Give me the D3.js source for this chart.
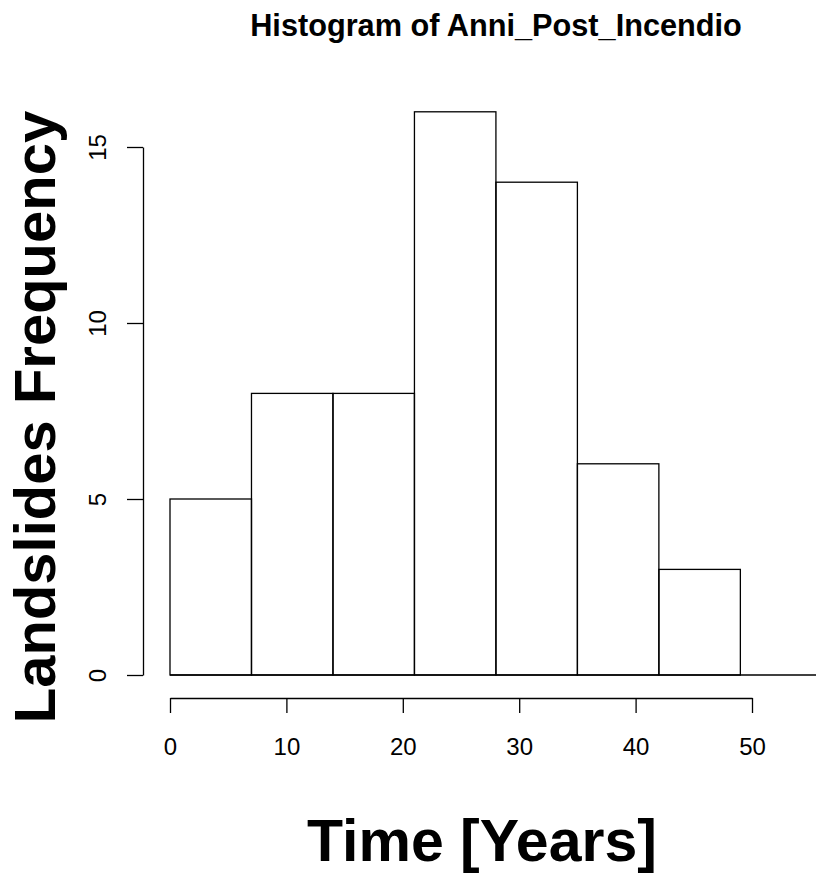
<!DOCTYPE html>
<html>
<head>
<meta charset="utf-8">
<script src="https://d3js.org/d3.v7.min.js"></script>
<style>
  html, body { margin: 0; padding: 0; background: #fff; }
  svg { display: block; font-family: "Liberation Sans", Arial, Helvetica, sans-serif; }
</style>
</head>
<body>
<svg id="chart" width="816" height="875"></svg>
<script>
// Histogram bins (years after fire) and landslide counts
const binEdges = [0, 7, 14, 21, 28, 35, 42, 49];
const counts = [5, 8, 8, 16, 14, 6, 3];
const xTicks = [0, 10, 20, 30, 40, 50];
const yTicks = [0, 5, 10, 15];

const title = "Histogram of Anni_Post_Incendio";
const xLabel = "Time [Years]";
const yLabel = "Landslides Frequency";

const FONT = "Liberation Sans, Arial, Helvetica, sans-serif";
const svg = d3.select("#chart");

const x = d3.scaleLinear().domain([0, 50]).range([170, 752]);
const y = d3.scaleLinear().domain([0, 15]).range([675, 147]);

const bins = counts.map((c, i) => ({ x0: binEdges[i], x1: binEdges[i + 1], n: c }));

// Bars
svg.append("g")
  .selectAll("rect")
  .data(bins)
  .join("rect")
  .attr("x", d => x(d.x0))
  .attr("y", d => y(d.n))
  .attr("width", d => x(d.x1) - x(d.x0))
  .attr("height", d => y(0) - y(d.n))
  .attr("fill", "none")
  .attr("stroke", "#000")
  .attr("stroke-width", 1.3);

// Baseline running to the right edge
svg.append("line")
  .attr("x1", x(0)).attr("x2", 816)
  .attr("y1", y(0)).attr("y2", y(0))
  .attr("stroke", "#000").attr("stroke-width", 1.3);

// X axis
const xAxis = svg.append("g")
  .attr("transform", "translate(0,698)")
  .call(d3.axisBottom(x).tickValues(xTicks).tickSize(15).tickSizeOuter(0));
xAxis.select(".domain").attr("stroke-width", 1.3);
xAxis.selectAll(".tick line").attr("stroke-width", 1.3);
xAxis.selectAll(".tick text").remove();
xAxis.selectAll(".tick")
  .append("text")
  .attr("y", 57)
  .attr("text-anchor", "middle")
  .attr("font-size", 24)
  .attr("font-family", FONT)
  .attr("fill", "#000")
  .text(d => d);

// Y axis
const yAxis = svg.append("g")
  .attr("transform", "translate(143,0)")
  .call(d3.axisLeft(y).tickValues(yTicks).tickSize(16).tickSizeOuter(0));
yAxis.select(".domain").attr("stroke-width", 1.3);
yAxis.selectAll(".tick line").attr("stroke-width", 1.3);
yAxis.selectAll(".tick text").remove();
yAxis.selectAll(".tick")
  .append("text")
  .attr("transform", "translate(-37,0) rotate(-90)")
  .attr("text-anchor", "middle")
  .attr("font-size", 24)
  .attr("font-family", FONT)
  .attr("fill", "#000")
  .text(d => d);

// Title
svg.append("text")
  .attr("x", 496).attr("y", 36)
  .attr("text-anchor", "middle")
  .attr("font-size", 30.7).attr("font-weight", "bold")
  .text(title);

// X label
svg.append("text")
  .attr("x", 482).attr("y", 861)
  .attr("text-anchor", "middle")
  .attr("font-size", 59).attr("font-weight", "bold")
  .text(xLabel);

// Y label
svg.append("text")
  .attr("transform", "translate(55,417) rotate(-90)")
  .attr("text-anchor", "middle")
  .attr("font-size", 58).attr("font-weight", "bold")
  .text(yLabel);
</script>
</body>
</html>
